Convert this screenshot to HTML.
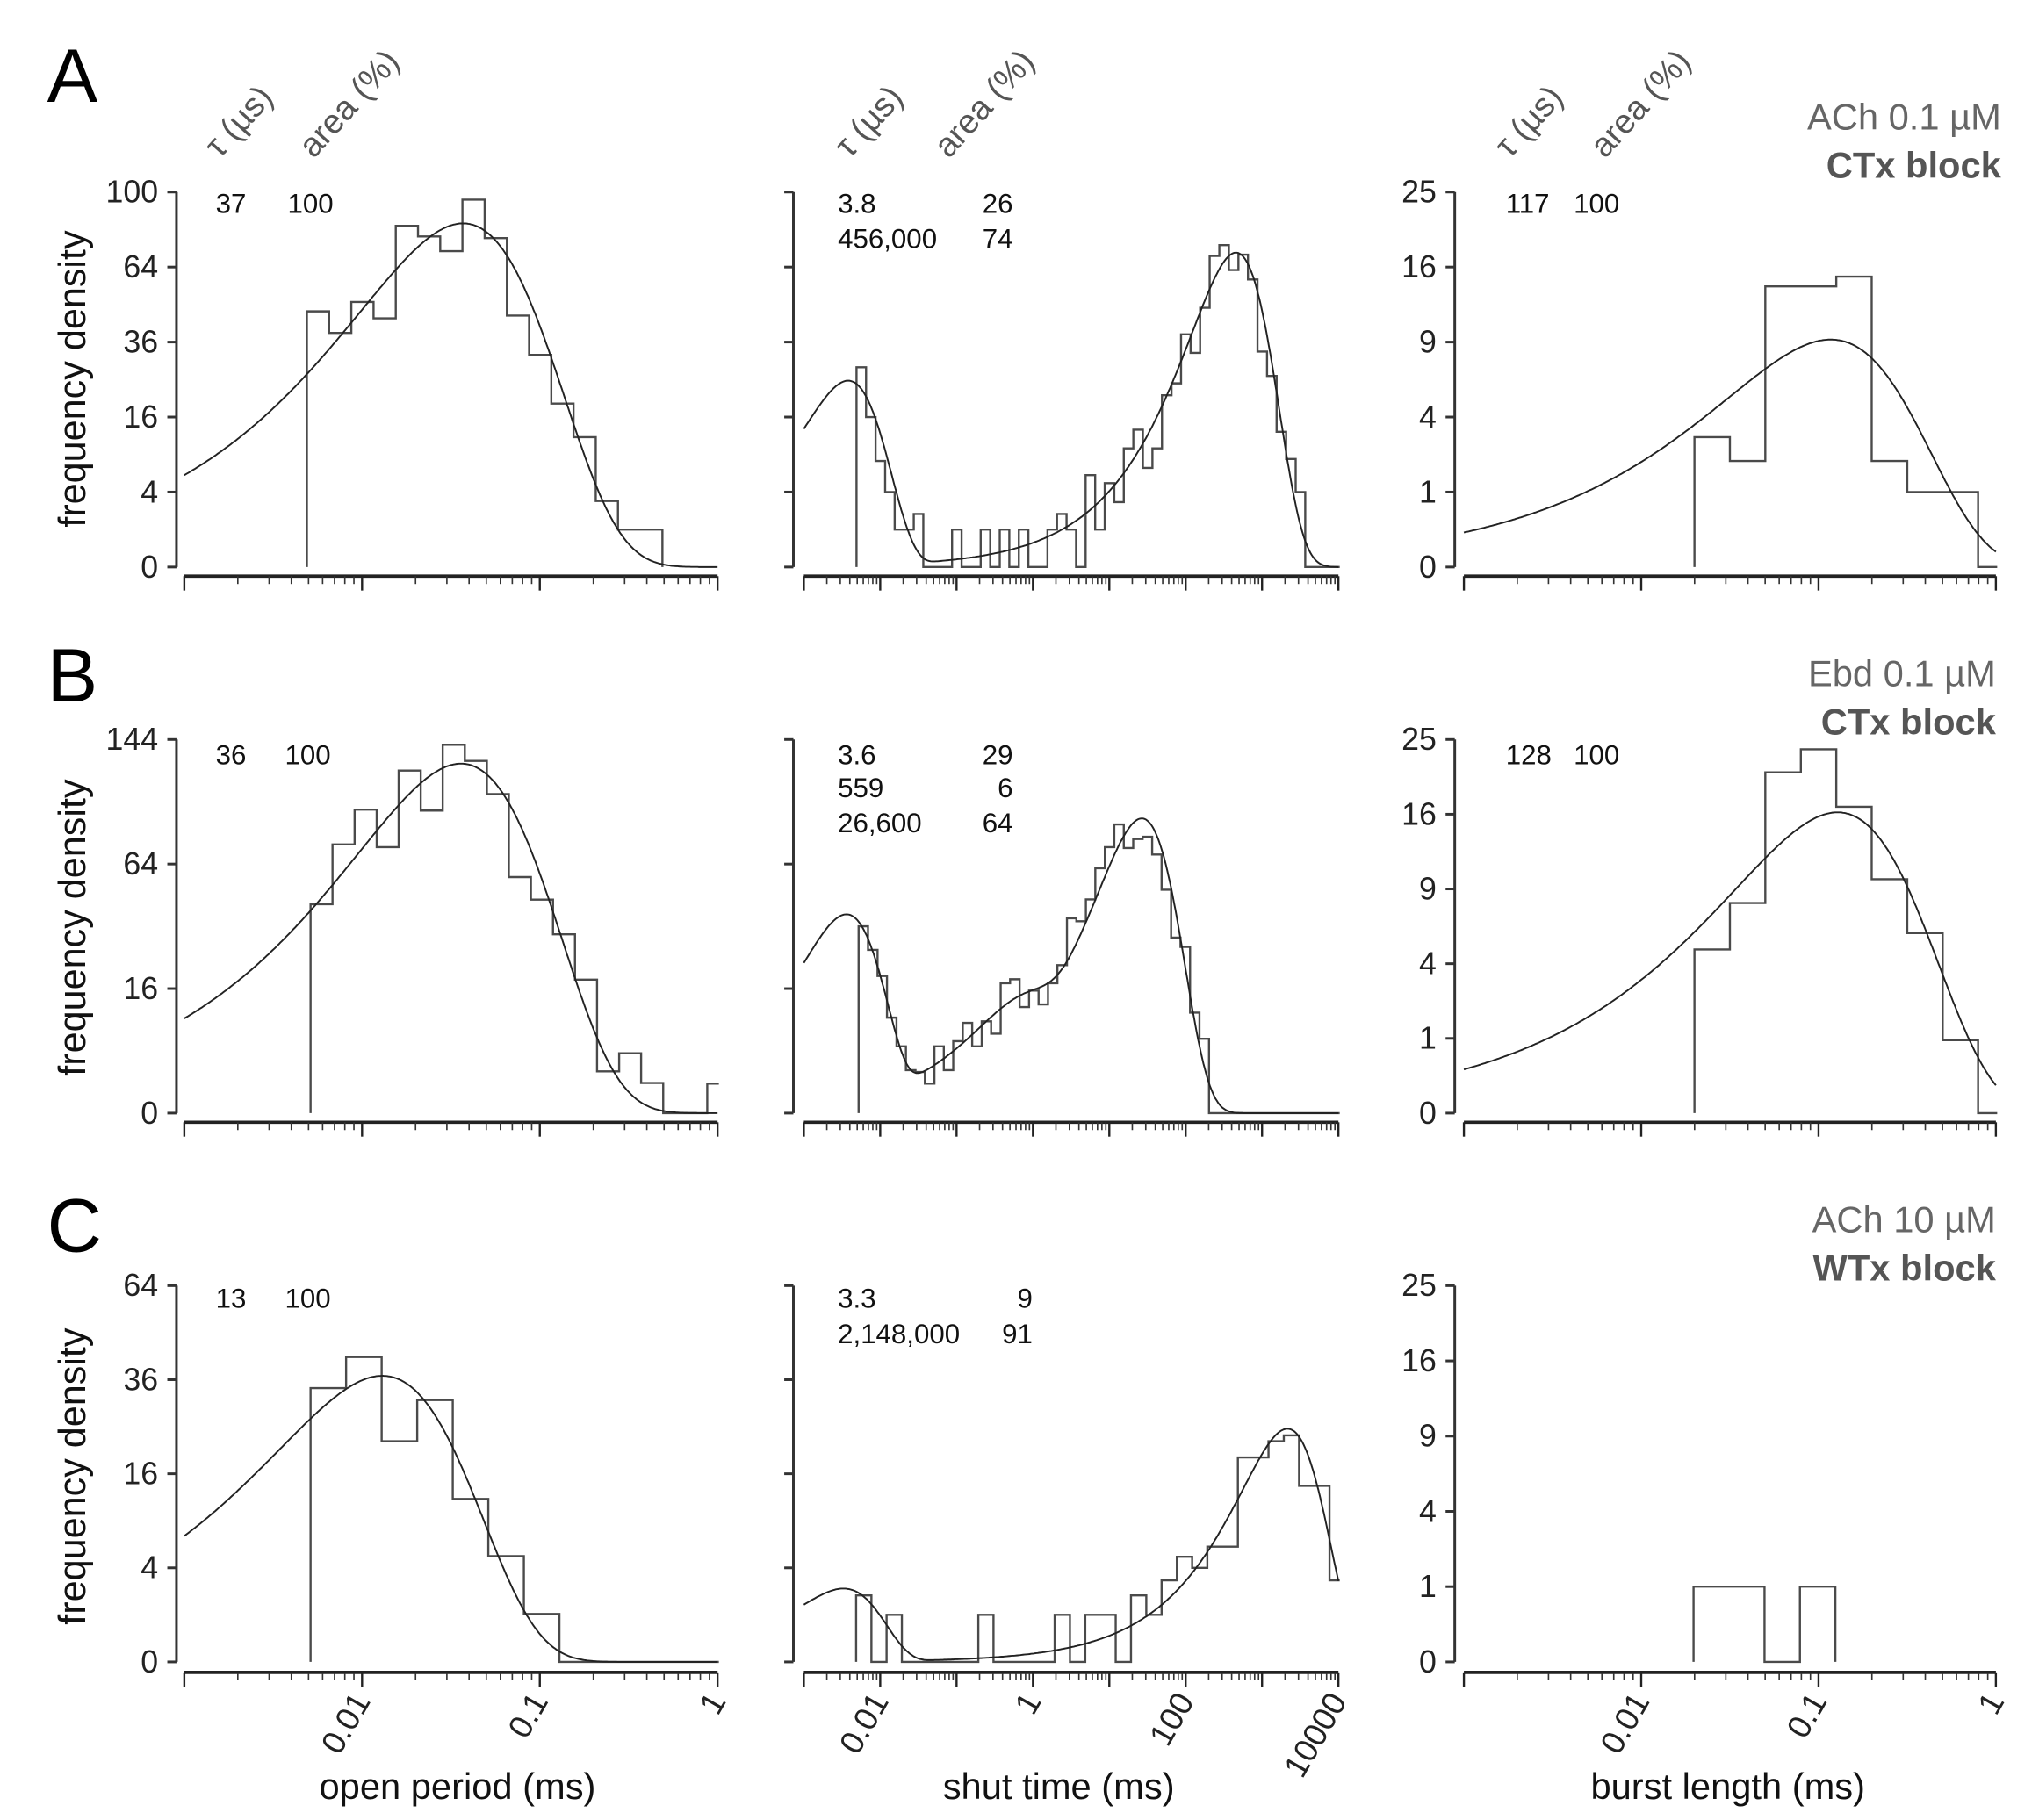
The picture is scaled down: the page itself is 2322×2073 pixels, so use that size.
<!DOCTYPE html>
<html><head><meta charset="utf-8"><title>Dwell-time histograms</title>
<style>
html,body{margin:0;padding:0;background:#fff;}
svg{display:block;font-family:"Liberation Sans",Arial,sans-serif;}
</style></head>
<body>
<svg id="fig" xmlns="http://www.w3.org/2000/svg" width="2322" height="2073" viewBox="0 0 1560 1393" preserveAspectRatio="none">
<rect x="0" y="0" width="1560" height="1393" fill="#fff"/>
<text x="36" y="78" font-size="58">A</text>
<text x="36" y="537" font-size="58">B</text>
<text x="36" y="958" font-size="58">C</text>
<g fill="#555" font-size="26">
<text transform="translate(168,122) rotate(-48)">τ (µs)</text>
<text transform="translate(240,122) rotate(-48)">area (%)</text>
<text transform="translate(650,122) rotate(-48)">τ (µs)</text>
<text transform="translate(726,122) rotate(-48)">area (%)</text>
<text transform="translate(1155,122) rotate(-48)">τ (µs)</text>
<text transform="translate(1228,122) rotate(-48)">area (%)</text>
</g>
<g fill="#666" font-size="28" text-anchor="end">
<text x="1531" y="99">ACh 0.1 µM</text>
<text x="1531" y="136" font-weight="bold" fill="#555">CTx block</text>
<text x="1527" y="525">Ebd 0.1 µM</text>
<text x="1527" y="562" font-weight="bold" fill="#555">CTx block</text>
<text x="1527" y="943">ACh 10 µM</text>
<text x="1527" y="980" font-weight="bold" fill="#555">WTx block</text>
</g>
<g font-size="28" fill="#111" text-anchor="middle">
<text x="350" y="1377">open period (ms)</text>
<text x="810" y="1377">shut time (ms)</text>
<text x="1322" y="1377">burst length (ms)</text>
<text transform="translate(65,290) rotate(-90)" font-size="29">frequency density</text>
<text transform="translate(65,710) rotate(-90)" font-size="29">frequency density</text>
<text transform="translate(65,1130) rotate(-90)" font-size="29">frequency density</text>
</g>
<g font-size="21" fill="#111">
<text x="165" y="163">37</text>
<text x="220" y="163">100</text>
<text x="641" y="163">3.8</text>
<text x="775" y="163" text-anchor="end">26</text>
<text x="641" y="190">456,000</text>
<text x="775" y="190" text-anchor="end">74</text>
<text x="1152" y="163">117</text>
<text x="1204" y="163">100</text>
<text x="165" y="585">36</text>
<text x="218" y="585">100</text>
<text x="641" y="585">3.6</text>
<text x="775" y="585" text-anchor="end">29</text>
<text x="641" y="610">559</text>
<text x="775" y="610" text-anchor="end">6</text>
<text x="641" y="637">26,600</text>
<text x="775" y="637" text-anchor="end">64</text>
<text x="1152" y="585">128</text>
<text x="1204" y="585">100</text>
<text x="165" y="1001">13</text>
<text x="218" y="1001">100</text>
<text x="641" y="1001">3.3</text>
<text x="790" y="1001" text-anchor="end">9</text>
<text x="641" y="1028">2,148,000</text>
<text x="790" y="1028" text-anchor="end">91</text>
</g>
<g id="plots"></g>
</svg>
<script>
// ---- data (bin start in log10 ms, bin width in decades, values in frequency density) ----
const histA1Start = -2.31, histA1Width = 0.125;
const histA1Values = [46.5,39,50,44,82.8,77.7,71,96,77,45,32,19,12,3.1,1,1];
const histA2Start = -2.31, histA2Width = 0.125;
const histA2Values = [28.4,16,8,4,1,1,2,0,0,0,1,0,0,1,0,1,0,1,0,0,1,2,1,0,6,1,5,3,10,13.4,7,10,21,24,38.5,32.6,47.8,68.8,73.7,62.7,69.4,58.8,33,26,13,8.3,4,0,0,0,0,0,0,0,0,0,0,0,0];
const histA3Start = -1.7, histA3Width = 0.2;
const histA3Values = [3,2,14,14,15,2,1,1,0];
const histB1Start = -2.29, histB1Width = 0.124;
const histB1Values = [45,74.5,95,73,121,94.4,140,128,105,57.5,47,33,18.4,1.8,3.7,0.94,0,0,0.9];
const histB2Start = -2.283, histB2Width = 0.124;
const histB2Values = [36,27.5,19.4,9.4,4.6,1.9,1.75,0.9,4.6,1.9,5.35,8.4,4.6,8.7,6.5,17.4,18.5,11.6,15.5,12.2,17.4,22.6,39.2,38,47.1,61.9,73,86,72.5,77.5,78.8,69,51.5,31.8,28.5,10.4,5.7,0,0,0,0,0,0,0,0,0,0,0,0,0,0,0,0,0,0];
const histB3Start = -1.7, histB3Width = 0.2;
const histB3Values = [4.8,7.9,20.8,23.7,16.8,9.8,5.8,0.95,0];
const histC1Start = -2.29, histC1Width = 0.2;
const histC1Values = [33.9,42,22,31,12,5.06,1.04,0,0,0,0,0];
const histC2Start = -2.316, histC2Width = 0.2;
const histC2Values = [2,0,1,0,0,0,0,0,1,0,0,0,0,1,0,1,1,0,2,1,3,5,4,6,6,18.9,18.9,22,23.2,14,14,3];
const histC3Start = -1.705, histC3Width = 0.2;
const histC3Values = [1,1,0,1];

// fitted exponential components: tau in microseconds, area in %, scale = peak density for 100% area
const fitA1Tau = [37], fitA1Area = [100], fitA1Scale = 84;
const fitA2Tau = [3.8, 456000], fitA2Area = [26, 74], fitA2Scale = 95;
const fitA3Tau = [117], fitA3Area = [100], fitA3Scale = 9.2;
const fitB1Tau = [36], fitB1Area = [100], fitB1Scale = 126;
const fitB2Tau = [3.6, 559, 26600], fitB2Area = [29, 6, 64], fitB2Scale = 140;
const fitB3Tau = [128], fitB3Area = [100], fitB3Scale = 16.2;
const fitC1Tau = [13], fitC1Area = [100], fitC1Scale = 37;
const fitC2Tau = [3.3, 2148000], fitC2Area = [9, 91], fitC2Scale = 27;

const yTicksA = [0,4,16,36,64,100];
const yTicksB = [0,16,64,144];
const yTicksC = [0,4,16,36,64];
const yTicksBurst = [0,1,4,9,16,25];
const xTickLabelsShort = ["0.01","0.1","1"];
const xTickLabelsShut = ["0.01","1","100","10000"];

// ---- layout ----
const cols = [
  {x0:141, x1:549, lmin:-3, lmax:0, yAxisX:135, label:true},
  {x0:615, x1:1024, lmin:-3, lmax:4, yAxisX:607, label:false},
  {x0:1120, x1:1527, lmin:-3, lmax:0, yAxisX:1113, label:true}
];
const rows = [
  {y0:434, h:287, xAxisY:441},
  {y0:852, h:286, xAxisY:859},
  {y0:1272, h:288, xAxisY:1280}
];
const NS = "http://www.w3.org/2000/svg";
const plots = document.getElementById('plots');
function mk(tag, attrs, parent){
  const e = document.createElementNS(NS, tag);
  for (const k in attrs) e.setAttribute(k, attrs[k]);
  (parent||plots).appendChild(e);
  return e;
}
function xScale(c){ return l => c.x0 + (l - c.lmin) / (c.lmax - c.lmin) * (c.x1 - c.x0); }
function yScale(r, maxV){ return v => r.y0 - Math.sqrt(Math.max(v,0)) / Math.sqrt(maxV) * r.h; }

const panels = [
  {r:0,c:0,name:'a-open',max:100,ticks:yTicksA,hs:histA1Start,hw:histA1Width,hv:histA1Values,ft:fitA1Tau,fa:fitA1Area,fs:fitA1Scale},
  {r:0,c:1,name:'a-shut',max:100,ticks:yTicksA,hs:histA2Start,hw:histA2Width,hv:histA2Values,ft:fitA2Tau,fa:fitA2Area,fs:fitA2Scale},
  {r:0,c:2,name:'a-burst',max:25,ticks:yTicksBurst,hs:histA3Start,hw:histA3Width,hv:histA3Values,ft:fitA3Tau,fa:fitA3Area,fs:fitA3Scale},
  {r:1,c:0,name:'b-open',max:144,ticks:yTicksB,hs:histB1Start,hw:histB1Width,hv:histB1Values,ft:fitB1Tau,fa:fitB1Area,fs:fitB1Scale},
  {r:1,c:1,name:'b-shut',max:144,ticks:yTicksB,hs:histB2Start,hw:histB2Width,hv:histB2Values,ft:fitB2Tau,fa:fitB2Area,fs:fitB2Scale},
  {r:1,c:2,name:'b-burst',max:25,ticks:yTicksBurst,hs:histB3Start,hw:histB3Width,hv:histB3Values,ft:fitB3Tau,fa:fitB3Area,fs:fitB3Scale},
  {r:2,c:0,name:'c-open',max:64,ticks:yTicksC,hs:histC1Start,hw:histC1Width,hv:histC1Values,ft:fitC1Tau,fa:fitC1Area,fs:fitC1Scale},
  {r:2,c:1,name:'c-shut',max:64,ticks:yTicksC,hs:histC2Start,hw:histC2Width,hv:histC2Values,ft:fitC2Tau,fa:fitC2Area,fs:fitC2Scale},
  {r:2,c:2,name:'c-burst',max:25,ticks:yTicksBurst,hs:histC3Start,hw:histC3Width,hv:histC3Values,ft:null,fa:null,fs:0}
];

panels.forEach((p, i) => {
  const c = cols[p.c], r = rows[p.r];
  const X = xScale(c), Y = yScale(r, p.max);
  const g = mk('g', {});
  
  
  const cp = mk('clipPath', {id:'clip'+i}, g);
  mk('rect', {x:c.x0, y:r.y0 - r.h - 20, width:c.x1 - c.x0 + 1, height:r.h + 22}, cp);
  const ya = mk('line', {x1:c.yAxisX, x2:c.yAxisX, y1:Y(p.max), y2:Y(0), stroke:'#333', 'stroke-width':2}, g);
  
  
  p.ticks.forEach(t => {
    mk('line', {x1:c.yAxisX - 7, x2:c.yAxisX, y1:Y(t), y2:Y(t), stroke:'#333', 'stroke-width':2}, g);
    if (c.label) {
      const tx = mk('text', {x:c.yAxisX - 14, y:Y(t) + 8, 'font-size':24, 'text-anchor':'end', fill:'#222'}, g);
      tx.textContent = String(t);
      
      
    }
  });
  const xa = mk('line', {x1:c.x0, x2:c.x1, y1:r.xAxisY, y2:r.xAxisY, stroke:'#222', 'stroke-width':2.5}, g);
  
  
  for (let d = c.lmin; d <= c.lmax; d++) {
    mk('line', {x1:X(d), x2:X(d), y1:r.xAxisY, y2:r.xAxisY + 11, stroke:'#222', 'stroke-width':1.6}, g);
    if (d < c.lmax) for (let m = 2; m <= 9; m++) {
      const xx = X(d + Math.log10(m));
      mk('line', {x1:xx, x2:xx, y1:r.xAxisY, y2:r.xAxisY + 6, stroke:'#333', 'stroke-width':1.1}, g);
    }
  }
  if (p.r === 2) {
    const labs = p.c === 1 ? xTickLabelsShut : xTickLabelsShort;
    labs.forEach(s => {
      const xx = X(Math.log10(parseFloat(s)));
      const tx = mk('text', {transform:'translate(' + (xx + 7) + ',' + (r.xAxisY + 22) + ') rotate(-60)', 'font-size':25, 'text-anchor':'end', fill:'#222'}, g);
      tx.textContent = s;
      
      
    });
  }
  let d = 'M' + X(p.hs).toFixed(1) + ',' + Y(0).toFixed(1);
  p.hv.forEach((v, k) => {
    const l0 = p.hs + k * p.hw, l1 = l0 + p.hw;
    d += ' L' + X(l0).toFixed(1) + ',' + Y(v).toFixed(1) + ' L' + X(l1).toFixed(1) + ',' + Y(v).toFixed(1);
  });
  d += ' L' + X(p.hs + p.hv.length * p.hw).toFixed(1) + ',' + Y(0).toFixed(1);
  const hp = mk('path', {d:d, fill:'none', stroke:'#4a4a4a', 'stroke-width':1.6, 'clip-path':'url(#clip' + i + ')'}, g);
  
  
  if (p.ft) {
    let cd = '';
    const N = 400;
    for (let k = 0; k <= N; k++) {
      const l = c.lmin + (c.lmax - c.lmin) * k / N;
      const t = Math.pow(10, l);
      let v = 0;
      p.ft.forEach((tau, j) => {
        const tm = tau / 1000;
        v += p.fs * p.fa[j] / 100 * (t / tm) * Math.exp(1 - t / tm);
      });
      cd += (k ? ' L' : 'M') + X(l).toFixed(1) + ',' + Y(Math.min(v, p.max)).toFixed(1);
    }
    const fc = mk('path', {d:cd, fill:'none', stroke:'#222', 'stroke-width':1.3}, g);
    
    
  }
});
</script>
</body></html>
